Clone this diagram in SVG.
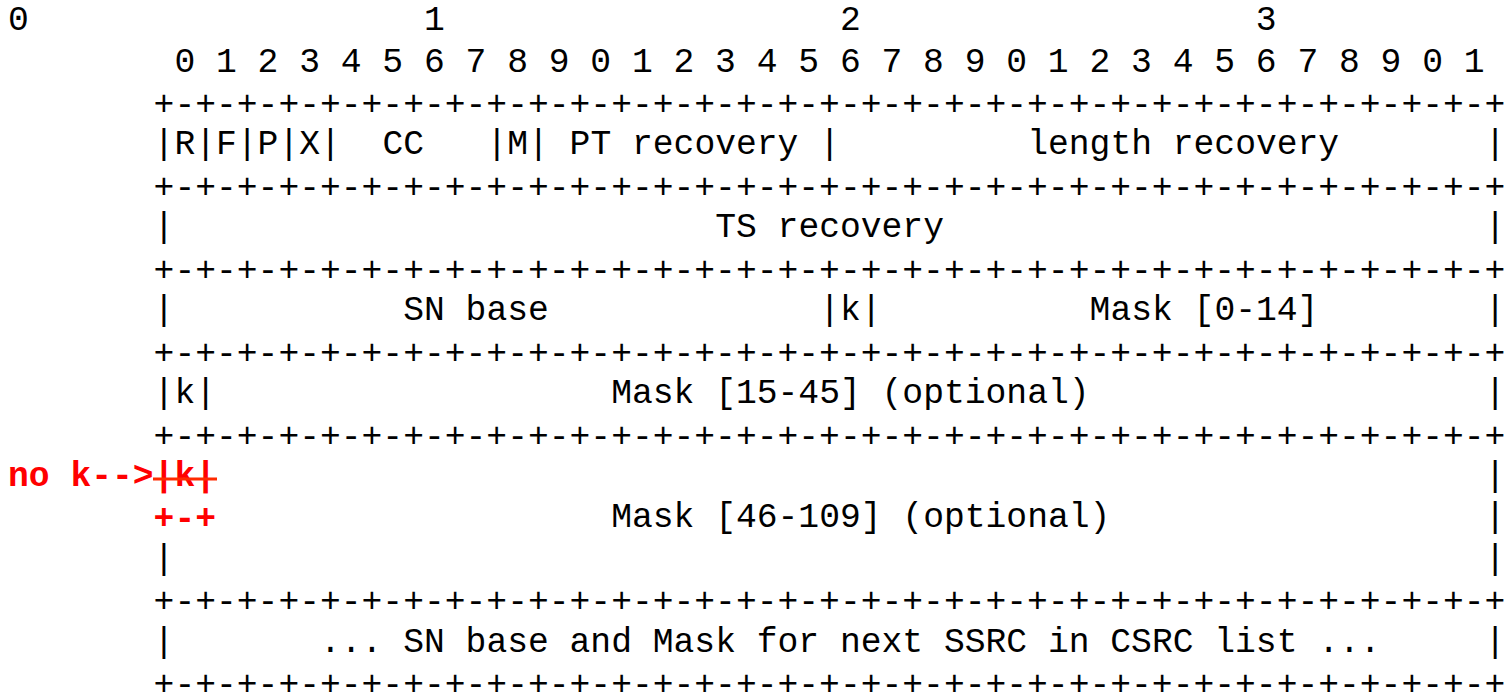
<svg xmlns="http://www.w3.org/2000/svg" width="1505" height="695" viewBox="0 0 1505 695">
  <style>
    text { font-family: "Liberation Mono", "Courier New", monospace; font-size: 34.67px; fill: #000; white-space: pre; }
    .red { fill: #ff0000; font-weight: bold; }
  </style>
  <rect width="1505" height="695" fill="#ffffff"/>
  <g id="header">
    <text x="8" y="30" xml:space="preserve">0                   1                   2                   3</text>
    <text x="174.4" y="71.5" xml:space="preserve">0 1 2 3 4 5 6 7 8 9 0 1 2 3 4 5 6 7 8 9 0 1 2 3 4 5 6 7 8 9 0 1</text>
  </g>
  <g id="borders">
    <text x="153.6" y="115">+-+-+-+-+-+-+-+-+-+-+-+-+-+-+-+-+-+-+-+-+-+-+-+-+-+-+-+-+-+-+-+-+</text>
    <text x="153.6" y="197.9">+-+-+-+-+-+-+-+-+-+-+-+-+-+-+-+-+-+-+-+-+-+-+-+-+-+-+-+-+-+-+-+-+</text>
    <text x="153.6" y="280.75">+-+-+-+-+-+-+-+-+-+-+-+-+-+-+-+-+-+-+-+-+-+-+-+-+-+-+-+-+-+-+-+-+</text>
    <text x="153.6" y="363.65">+-+-+-+-+-+-+-+-+-+-+-+-+-+-+-+-+-+-+-+-+-+-+-+-+-+-+-+-+-+-+-+-+</text>
    <text x="153.6" y="446.55">+-+-+-+-+-+-+-+-+-+-+-+-+-+-+-+-+-+-+-+-+-+-+-+-+-+-+-+-+-+-+-+-+</text>
    <text x="153.6" y="612.35">+-+-+-+-+-+-+-+-+-+-+-+-+-+-+-+-+-+-+-+-+-+-+-+-+-+-+-+-+-+-+-+-+</text>
    <text x="153.6" y="695">+-+-+-+-+-+-+-+-+-+-+-+-+-+-+-+-+-+-+-+-+-+-+-+-+-+-+-+-+-+-+-+-+</text>
  </g>
  <g id="row-flags">
    <text x="153.6" y="154.4">|R|F|P|X|</text>
    <text x="382.4" y="154.4">CC</text>
    <text x="486.4" y="154.4">|M|</text>
    <text x="569.6" y="154.4">PT recovery</text>
    <text x="819.2" y="154.4">|</text>
    <text x="1027.2" y="154.4">length recovery</text>
    <text x="1484.8" y="154.4">|</text>
  </g>
  <g id="row-ts">
    <text x="153.6" y="237.3">|</text>
    <text x="715.2" y="237.3">TS recovery</text>
    <text x="1484.8" y="237.3">|</text>
  </g>
  <g id="row-sn">
    <text x="153.6" y="320.2">|</text>
    <text x="403.2" y="320.2">SN base</text>
    <text x="819.2" y="320.2">|k|</text>
    <text x="1089.6" y="320.2">Mask [0-14]</text>
    <text x="1484.8" y="320.2">|</text>
  </g>
  <g id="row-mask15">
    <text x="153.6" y="403.1">|k|</text>
    <text x="611.2" y="403.1">Mask [15-45] (optional)</text>
    <text x="1484.8" y="403.1">|</text>
  </g>
  <g id="row-mask46">
    <text class="red" x="8" y="486">no k--&gt;|k|</text>
    <line x1="153" y1="479" x2="217" y2="479" stroke="#ff2a00" stroke-width="3"/>
    <text x="1484.8" y="486">|</text>
    <text class="red" x="153.6" y="529.45">+-+</text>
    <text x="611.2" y="527.45">Mask [46-109] (optional)</text>
    <text x="1484.8" y="527.45">|</text>
    <text x="153.6" y="568.9">|</text>
    <text x="1484.8" y="568.9">|</text>
  </g>
  <g id="row-next">
    <text x="153.6" y="651.8">|</text>
    <text x="320" y="651.8">... SN base and Mask for next SSRC in CSRC list ...</text>
    <text x="1484.8" y="651.8">|</text>
  </g>
</svg>
